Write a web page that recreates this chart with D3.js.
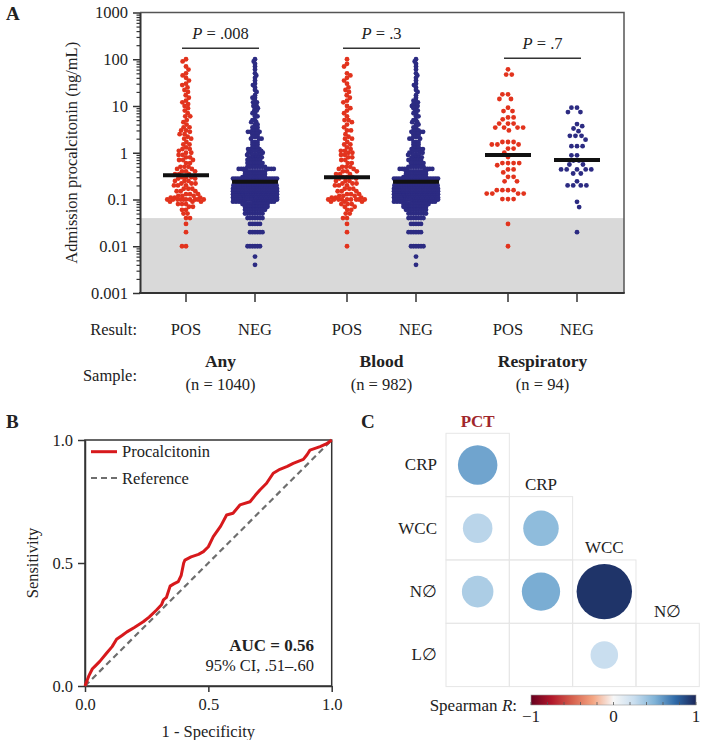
<!DOCTYPE html>
<html><head><meta charset="utf-8">
<script src="https://cdn.jsdelivr.net/npm/d3@7"></script>
<style>
body{margin:0;background:#fff}
svg, text{font-family:"Liberation Serif","Times New Roman",serif;fill:#222}
</style>
</head><body>
<svg id="c" width="701" height="740" font-family="Liberation Serif, serif"></svg>
<script>
// ---------------- DATA ----------------
const groups = ["Any", "Blood", "Respiratory"];
const groupN = ["(n = 1040)", "(n = 982)", "(n = 94)"];
const results = ["POS", "NEG"];
const pValues = [".008", ".3", ".7"];
const medians = [[0.33, 0.24], [0.30, 0.24], [0.9, 0.7]];
const detectionLimit = 0.04;
const yTickValues = [0.001, 0.01, 0.1, 1, 10, 100, 1000];
const yTickLabels = ["0.001", "0.01", "0.1", "1", "10", "100", "1000"];

// [value ng/mL, number of patients]
const anyPos = [[100,1],[90,1],[70,1],[60,1],[50,1],[45,1],[40,1],[35,1],[30,1],[28,1],[25,1],[22,1],[20,1],[17,1],[15,1],[13,1],[12,1],[11,1],[10,1],
[9,1],[8,1],[7,1],[6,2],[5,1],[4.5,1],[4,1],[3.5,2],[3,2],[2.8,1],[2.5,2],[2.2,1],[2,2],[1.7,1],[1.5,2],[1.3,1],[1.2,2],[1.1,1],[1,2],
[0.9,2],[0.8,2],[0.7,3],[0.6,2],[0.5,3],[0.45,2],[0.4,3],[0.35,3],[0.3,3],[0.28,2],[0.25,3],[0.22,3],[0.2,3],[0.17,3],[0.15,3],[0.13,3],[0.12,3],[0.11,3],[0.1,10],
[0.09,3],[0.08,3],[0.07,2],[0.06,2],[0.05,2],[0.04,2],[0.03,1],[0.02,1],[0.01,2]];
const anyNeg = [[100,1],[90,1],[80,1],[70,1],[60,1],[50,1],[45,1],[40,1],[35,1],[30,1],[28,1],[25,1],[22,1],[20,1],[17,1],[15,2],[13,1],[12,2],[11,1],[10,2],
[9,2],[8,2],[7,2],[6,2],[5,2],[4.5,2],[4,2],[3.5,3],[3,3],[2.8,3],[2.5,3],[2.2,3],[2,3],[1.7,3],[1.5,3],[1.3,3],[1.2,3],[1.1,4],[1,4],
[0.9,5],[0.8,6],[0.7,6],[0.6,7],[0.5,8],[0.45,8],[0.4,9],[0.35,9],[0.3,10],[0.28,11],[0.25,13],[0.22,15],[0.2,18],[0.17,20],[0.15,22],[0.13,22],[0.12,22],[0.11,24],[0.1,28],
[0.09,14],[0.08,11],[0.07,10],[0.06,9],[0.05,8],[0.04,7],[0.03,5],[0.02,6],[0.01,6],[0.006,1],[0.004,1]];
const bloodPos = [[100,1],[80,1],[70,1],[50,1],[45,1],[40,1],[35,1],[30,1],[25,1],[22,1],[20,1],[17,1],[15,1],[13,1],[12,1],[10,1],
[9,1],[8,1],[7,1],[6,1],[5,2],[4.5,1],[4,1],[3.5,1],[3,2],[2.5,1],[2.2,1],[2,2],[1.7,1],[1.5,2],[1.3,1],[1.2,1],[1.1,2],[1,2],
[0.9,2],[0.8,2],[0.7,2],[0.6,2],[0.5,3],[0.45,2],[0.4,3],[0.35,3],[0.3,3],[0.28,2],[0.25,3],[0.22,3],[0.2,3],[0.17,3],[0.15,3],[0.13,3],[0.12,3],[0.11,3],[0.1,9],
[0.09,3],[0.08,3],[0.07,2],[0.06,2],[0.05,2],[0.04,2],[0.03,1],[0.02,1],[0.01,1]];
const bloodNeg = [[100,1],[90,1],[80,1],[70,1],[60,1],[50,1],[45,1],[40,1],[35,1],[30,1],[28,1],[25,1],[22,1],[20,1],[17,1],[15,1],[13,2],[12,1],[11,2],[10,2],
[9,2],[8,2],[7,2],[6,2],[5,2],[4.5,2],[4,2],[3.5,2],[3,3],[2.8,3],[2.5,3],[2.2,3],[2,3],[1.7,3],[1.5,3],[1.3,3],[1.2,3],[1.1,3],[1,4],
[0.9,4],[0.8,5],[0.7,6],[0.6,6],[0.5,7],[0.45,8],[0.4,9],[0.35,9],[0.3,10],[0.28,11],[0.25,13],[0.22,15],[0.2,18],[0.17,20],[0.15,22],[0.13,22],[0.12,22],[0.11,24],[0.1,27],
[0.09,14],[0.08,11],[0.07,10],[0.06,9],[0.05,8],[0.04,7],[0.03,5],[0.02,6],[0.01,6],[0.006,1],[0.004,1]];
const respPos = [[61,1],[47,2],[17.8,2],[14.1,2],[9.2,1],[7.8,2],[5.7,2],[5.2,1],[4.2,3],[3.45,4],[3.0,1],[1.7,3],[1.5,3],[1.23,2],[1.0,1],[0.81,1],
[0.6,4],[0.54,1],[0.44,2],[0.38,1],[0.305,2],[0.245,2],[0.158,4],[0.134,4],[0.102,3],[0.03,1],[0.01,1]];
const respNeg = [[9.2,2],[7.4,2],[4.1,1],[3.7,1],[3.3,1],[2.9,1],[2.3,3],[1.9,1],[1.38,3],[0.88,2],[0.68,2],[0.56,2],[0.44,5],[0.36,2],[0.245,1],[0.2,4],[0.089,1],[0.069,1],[0.02,1]];
const swarmData = [[anyPos, anyNeg], [bloodPos, bloodNeg], [respPos, respNeg]];

// ROC curve (1 - specificity, sensitivity)
const rocFPR = [0,0.015,0.03,0.04,0.06,0.088,0.11,0.128,0.15,0.17,0.2,0.236,0.26,0.29,0.31,0.318,0.33,0.345,0.36,0.378,0.39,0.4,0.405,0.43,0.46,0.48,0.5,0.52,0.55,0.574,0.6,0.628,0.669,0.69,0.709,0.736,0.763,0.79,0.82,0.844,0.885,0.9,0.912,0.953,0.98,1];
const rocTPR = [0,0.04,0.07,0.08,0.1,0.134,0.16,0.19,0.205,0.22,0.238,0.261,0.28,0.309,0.33,0.35,0.36,0.406,0.415,0.424,0.45,0.5,0.512,0.525,0.535,0.546,0.566,0.607,0.65,0.695,0.702,0.736,0.749,0.775,0.797,0.824,0.865,0.881,0.893,0.905,0.921,0.94,0.959,0.973,0.985,1];
const refFPR = [0, 1];
const refTPR = [0, 1];
const rocTicks = [0, 0.5, 1];

// Correlation matrix (Spearman R, significant pairs only)
const corrCols = ["PCT", "CRP", "WCC", "N\u2205"];
const corrRows = ["CRP", "WCC", "N\u2205", "L\u2205"];
const corrPairs = [["CRP","PCT",0.55],["WCC","PCT",0.30],["WCC","CRP",0.45],["N\u2205","PCT",0.35],["N\u2205","CRP",0.52],["N\u2205","WCC",0.95],["L\u2205","WCC",0.25]];
const colorStops = [-1,-0.75,-0.5,-0.25,0,0.25,0.5,0.75,1];
const colorValues = ["#67001f","#b2182b","#d6604d","#f4a582","#f7f7f7","#c9deef","#80b3d7","#2f6aa8","#1b2659"];

// ---------------- DRAW ----------------
const svg = d3.select("#c");
const RED = "#e2331d", NAVY = "#2c2b82", AXC = "#333";
const FONT = "Liberation Serif, Times New Roman, serif";
const FS = 16.5;

// ---- Panel A ----
const A = {l:140, r:624, t:12.5, b:293};
const y = d3.scaleLog().domain([0.001, 1000]).range([A.b, A.t]);
const gx = d3.scalePoint().domain(groups).range([220.5, 542.5]);
const rx = d3.scalePoint().domain(results).range([-34.5, 34.5]);

svg.append("text").attr("x", 6).attr("y", 20).attr("font-size", 19).attr("font-weight", "bold").text("A");

svg.append("rect").attr("x", A.l).attr("y", y(detectionLimit)).attr("width", A.r - A.l)
  .attr("height", A.b - y(detectionLimit)).attr("fill", "#d9d9d9");

// beeswarm layout
function swarm(values, d, cap) {
  const placed = [];
  let flip = false;
  return values.map(v => {
    const py = y(v);
    const nb = placed.filter(p => Math.abs(p.y - py) < d);
    const ivs = nb.map(p => { const dx = Math.sqrt(d*d - (p.y-py)*(p.y-py)); return [p.x - dx, p.x + dx]; });
    const cands = [0];
    ivs.forEach(iv => cands.push(iv[0], iv[1]));
    cands.sort((a, b) => (Math.abs(a) - Math.abs(b)) || (flip ? b - a : a - b));
    let x = null;
    for (const c of cands) {
      if (Math.abs(c) > cap) break;
      if (ivs.every(iv => c <= iv[0] + 1e-6 || c >= iv[1] - 1e-6)) { x = c; break; }
    }
    if (x === null) {
      let best = 0, bestD = -1;
      for (let c = -cap; c <= cap + 1e-9; c += 0.5) {
        let m = Infinity;
        for (const p of nb) { const dd = Math.hypot(p.x - c, p.y - py); if (dd < m) m = dd; }
        if (m > bestD) { bestD = m; best = c; }
      }
      x = best;
    }
    if (x !== 0) flip = !flip;
    placed.push({x: x, y: py});
    return {x: x, y: py};
  });
}
const expand = pairs => pairs.flatMap(([v, c]) => d3.range(c).map(() => v));

const dots = svg.append("g");
groups.forEach((g, gi) => {
  results.forEach((r, ri) => {
    const vals = expand(swarmData[gi][ri]).sort((a, b) => b - a);
    const resp = gi === 2;
    const pts = swarm(vals, resp ? 5.6 : (ri === 0 ? 4.0 : 2.5), resp ? 30 : (ri === 0 ? 20 : 22));
    const cx = gx(g) + rx(r);
    dots.append("g").selectAll("circle").data(pts).join("circle")
      .attr("cx", p => cx + p.x).attr("cy", p => p.y).attr("r", 2.4)
      .attr("fill", ri === 0 ? RED : NAVY);
  });
});

// medians
groups.forEach((g, gi) => results.forEach((r, ri) => {
  const cx = gx(g) + rx(r);
  svg.append("line").attr("x1", cx - 23).attr("x2", cx + 23)
    .attr("y1", y(medians[gi][ri])).attr("y2", y(medians[gi][ri]))
    .attr("stroke", "#111").attr("stroke-width", 4);
}));

// frame
svg.append("path").attr("d", `M${A.l},${A.t}H${A.r}V${A.b}`).attr("fill", "none").attr("stroke", "#555").attr("stroke-width", 1.5);

// y axis
const minor = [];
for (let e = -3; e < 3; e++) for (let k = 2; k <= 9; k++) minor.push(k * Math.pow(10, e));
const yAxisMinor = svg.append("g").attr("transform", `translate(${A.l},0)`)
  .call(d3.axisLeft(y).tickValues(minor).tickSize(3.5).tickFormat("").tickSizeOuter(0));
yAxisMinor.select(".domain").remove();
yAxisMinor.selectAll("line").attr("stroke", AXC).attr("stroke-width", 1.2);
const yAxis = svg.append("g").attr("transform", `translate(${A.l},0)`)
  .call(d3.axisLeft(y).tickValues(yTickValues).tickSize(7).tickPadding(5).tickSizeOuter(0)
    .tickFormat((d, i) => yTickLabels[i]));
yAxis.attr("font-family", FONT);
yAxis.select(".domain").attr("stroke", AXC).attr("stroke-width", 2);
yAxis.selectAll("line").attr("stroke", AXC).attr("stroke-width", 1.5);
yAxis.selectAll("text").attr("font-size", FS).attr("fill", "#222");

svg.append("text").attr("transform", `translate(77,${(A.t + A.b) / 2}) rotate(-90)`)
  .attr("text-anchor", "middle").attr("font-size", FS).text("Admission procalcitonin (ng/mL)");

// bottom axis
svg.append("line").attr("x1", A.l - 1).attr("x2", A.r + 0.75).attr("y1", A.b).attr("y2", A.b).attr("stroke", AXC).attr("stroke-width", 2);
groups.forEach((g, gi) => results.forEach(r => {
  const cx = gx(g) + rx(r);
  svg.append("line").attr("x1", cx).attr("x2", cx).attr("y1", A.b).attr("y2", A.b + 9).attr("stroke", AXC).attr("stroke-width", 1.5);
  svg.append("text").attr("x", cx).attr("y", 335).attr("text-anchor", "middle").attr("font-size", FS).text(r);
}));
svg.append("text").attr("x", 137).attr("y", 335).attr("text-anchor", "end").attr("font-size", FS).text("Result:");
svg.append("text").attr("x", 137).attr("y", 381).attr("text-anchor", "end").attr("font-size", FS).text("Sample:");
groups.forEach((g, gi) => {
  svg.append("text").attr("x", gx(g)).attr("y", 367).attr("text-anchor", "middle").attr("font-size", 17.5).attr("font-weight", "bold").text(g);
  svg.append("text").attr("x", gx(g)).attr("y", 390).attr("text-anchor", "middle").attr("font-size", FS).text(groupN[gi]);
  // P-value brackets
  const top = d3.max(swarmData[gi], s => d3.max(s, p => p[0]));
  const by = y(top) - 11;
  svg.append("line").attr("x1", gx(g) - 38.5).attr("x2", gx(g) + 38.5).attr("y1", by).attr("y2", by).attr("stroke", "#333").attr("stroke-width", 1.5);
  const t = svg.append("text").attr("x", gx(g)).attr("y", by - 9).attr("text-anchor", "middle").attr("font-size", FS);
  t.append("tspan").attr("font-style", "italic").text("P");
  t.append("tspan").text(" = " + pValues[gi]);
});

// ---- Panel B ----
const B = {l:85, r:331.7, t:440, b:686};
const xB = d3.scaleLinear().domain([0, 1]).range([B.l, B.r]);
const yB = d3.scaleLinear().domain([0, 1]).range([B.b, B.t]);
svg.append("text").attr("x", 6).attr("y", 428).attr("font-size", 19).attr("font-weight", "bold").text("B");
svg.append("rect").attr("x", B.l).attr("y", B.t).attr("width", B.r - B.l).attr("height", B.b - B.t)
  .attr("fill", "none").attr("stroke", "#333").attr("stroke-width", 1.5);
const xAxB = svg.append("g").attr("transform", `translate(0,${B.b})`)
  .call(d3.axisBottom(xB).tickValues(rocTicks).tickFormat(d3.format(".1f")).tickSize(6).tickPadding(6).tickSizeOuter(0));
const yAxB = svg.append("g").attr("transform", `translate(${B.l},0)`)
  .call(d3.axisLeft(yB).tickValues(rocTicks).tickFormat(d3.format(".1f")).tickSize(7).tickPadding(5).tickSizeOuter(0));
[xAxB, yAxB].forEach(a => {
  a.attr("font-family", FONT);
  a.select(".domain").attr("stroke", "#333").attr("stroke-width", 1.5);
  a.selectAll("line").attr("stroke", "#333").attr("stroke-width", 1.5);
  a.selectAll("text").attr("font-size", FS).attr("fill", "#222");
});
svg.append("text").attr("transform", `translate(38,${(B.t + B.b) / 2}) rotate(-90)`).attr("text-anchor", "middle").attr("font-size", FS).text("Sensitivity");
svg.append("text").attr("x", (B.l + B.r) / 2).attr("y", 737).attr("text-anchor", "middle").attr("font-size", FS).text("1 - Specificity");

const line = d3.line().x(d => xB(d[0])).y(d => yB(d[1]));
svg.append("path").attr("d", line(d3.zip(refFPR, refTPR))).attr("fill", "none")
  .attr("stroke", "#6e6e6e").attr("stroke-width", 2.2).attr("stroke-dasharray", "6,4");
svg.append("path").attr("d", line(d3.zip(rocFPR, rocTPR))).attr("fill", "none")
  .attr("stroke", "#d7191c").attr("stroke-width", 3).attr("stroke-linejoin", "round");

// legend
svg.append("line").attr("x1", 91).attr("x2", 117).attr("y1", 451.7).attr("y2", 451.7).attr("stroke", "#d7191c").attr("stroke-width", 3);
svg.append("text").attr("x", 122).attr("y", 457).attr("font-size", FS).text("Procalcitonin");
svg.append("line").attr("x1", 91).attr("x2", 117).attr("y1", 478).attr("y2", 478).attr("stroke", "#6e6e6e").attr("stroke-width", 2.2).attr("stroke-dasharray", "6,4");
svg.append("text").attr("x", 122).attr("y", 483.5).attr("font-size", FS).text("Reference");
svg.append("text").attr("x", 314).attr("y", 650.5).attr("text-anchor", "end").attr("font-size", 17).attr("font-weight", "bold").text("AUC = 0.56");
svg.append("text").attr("x", 314).attr("y", 671).attr("text-anchor", "end").attr("font-size", FS).text("95% CI, .51\u2013.60");

// ---- Panel C ----
svg.append("text").attr("x", 361).attr("y", 428).attr("font-size", 19).attr("font-weight", "bold").text("C");
const cx = d3.scaleBand().domain(corrCols).range([446, 699.3]);
const cy = d3.scaleBand().domain(corrRows).range([433.3, 686.6]);
const color = d3.scaleLinear().domain(colorStops).range(colorValues);
const rad = d3.scaleLinear().domain([0, 1]).range([8.8, 28.7]);
const cg = svg.append("g");
corrRows.forEach((rv, i) => corrCols.forEach((cv, j) => {
  if (j <= i) cg.append("rect").attr("x", cx(cv)).attr("y", cy(rv)).attr("width", cx.bandwidth()).attr("height", cy.bandwidth())
    .attr("fill", "none").attr("stroke", "#e6e6e6").attr("stroke-width", 1);
}));
corrRows.forEach(rv => svg.append("text").attr("x", 437).attr("y", cy(rv) + cy.bandwidth() / 2 + 5.5)
  .attr("text-anchor", "end").attr("font-size", 17).text(rv));
corrCols.forEach((cv, j) => {
  const t = svg.append("text").attr("x", cx(cv) + cx.bandwidth() / 2).attr("y", cy(corrRows[j]) - 6.5)
    .attr("text-anchor", "middle").attr("font-size", 17).text(cv);
  if (j === 0) t.attr("font-weight", "bold").style("fill", "#a0262b");
});
cg.selectAll("circle").data(corrPairs).join("circle")
  .attr("cx", d => cx(d[1]) + cx.bandwidth() / 2).attr("cy", d => cy(d[0]) + cy.bandwidth() / 2)
  .attr("r", d => rad(Math.abs(d[2]))).attr("fill", d => color(d[2]));

// colorbar
const cb = d3.scaleLinear().domain([-1, 1]).range([531, 696]);
const grad = svg.append("defs").append("linearGradient").attr("id", "gr");
colorStops.forEach((s, i) => grad.append("stop").attr("offset", ((s + 1) / 2 * 100) + "%").attr("stop-color", colorValues[i]));
svg.append("rect").attr("x", cb(-1)).attr("y", 695).attr("width", cb(1) - cb(-1)).attr("height", 10)
  .attr("fill", "url(#gr)").attr("stroke", "#999").attr("stroke-width", 0.6);
d3.range(-1, 1.001, 0.2).forEach(v => svg.append("line").attr("x1", cb(v)).attr("x2", cb(v)).attr("y1", 702).attr("y2", 705)
  .attr("stroke", "#555").attr("stroke-width", 0.8));
[-1, 0, 1].forEach(v => svg.append("text").attr("x", cb(v)).attr("y", 722).attr("text-anchor", "middle").attr("font-size", 17)
  .text(v < 0 ? "\u2212" + Math.abs(v) : String(v)));
const st = svg.append("text").attr("x", 517).attr("y", 710.5).attr("text-anchor", "end").attr("font-size", 17);
st.append("tspan").text("Spearman ");
st.append("tspan").attr("font-style", "italic").text("R");
st.append("tspan").text(":");
</script>
</body></html>
